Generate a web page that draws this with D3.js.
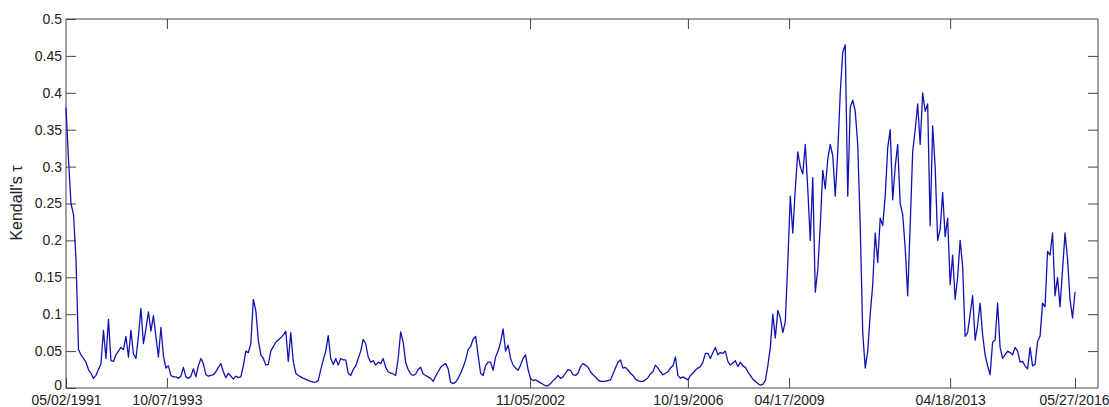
<!DOCTYPE html>
<html>
<head>
<meta charset="utf-8">
<script src="https://cdn.jsdelivr.net/npm/d3@7"></script>
<style>
  body { margin: 0; background: #fff; }
  .tick text { font-family: "Liberation Sans", Arial, sans-serif; font-size: 14px; fill: #222; }
</style>
</head>
<body>
<div id="chart"></div>
<script>
// Kendall's tau, rolling estimate, one value every few trading days
var tau = [
  0.38, 0.31, 0.25, 0.235,   0.175, 0.052, 0.045, 0.04,   0.035, 0.025, 0.02, 0.013,
  0.017, 0.025, 0.033, 0.078,   0.04, 0.093, 0.037, 0.036,   0.045, 0.05, 0.055, 0.052,
  0.07, 0.042, 0.078, 0.046,   0.04, 0.07, 0.108, 0.06,   0.08, 0.103, 0.077, 0.098,
  0.07, 0.042, 0.082, 0.044,   0.027, 0.03, 0.017, 0.015,   0.015, 0.013, 0.016, 0.028,
  0.015, 0.013, 0.016, 0.026,   0.015, 0.03, 0.04, 0.033,   0.018, 0.016, 0.017, 0.018,
  0.022, 0.028, 0.033, 0.022,   0.014, 0.02, 0.016, 0.012,   0.016, 0.014, 0.015, 0.03,
  0.05, 0.048, 0.06, 0.12,   0.105, 0.065, 0.045, 0.04,   0.031, 0.032, 0.05, 0.056,
  0.062, 0.065, 0.068, 0.072,   0.077, 0.036, 0.075, 0.036,   0.02, 0.017, 0.015, 0.013,
  0.012, 0.01, 0.009, 0.008,   0.008, 0.01, 0.025, 0.038,   0.05, 0.071, 0.04, 0.032,
  0.04, 0.031, 0.04, 0.038,   0.038, 0.02, 0.017, 0.025,   0.03, 0.04, 0.05, 0.066,
  0.06, 0.042, 0.035, 0.037,   0.031, 0.035, 0.033, 0.04,   0.028, 0.022, 0.02, 0.019,
  0.017, 0.04, 0.076, 0.062,   0.035, 0.025, 0.019, 0.017,   0.019, 0.025, 0.028, 0.019,
  0.017, 0.015, 0.013, 0.009,   0.016, 0.022, 0.028, 0.031,   0.033, 0.026, 0.008, 0.006,
  0.008, 0.013, 0.02, 0.028,   0.038, 0.052, 0.056, 0.066,   0.07, 0.045, 0.02, 0.017,
  0.03, 0.035, 0.035, 0.024,   0.042, 0.05, 0.062, 0.08,   0.05, 0.058, 0.04, 0.031,
  0.027, 0.024, 0.031, 0.04,   0.045, 0.025, 0.013, 0.01,   0.011, 0.009, 0.007, 0.005,
  0.003, 0.003, 0.006, 0.01,   0.013, 0.017, 0.013, 0.015,   0.02, 0.025, 0.024, 0.018,
  0.017, 0.02, 0.029, 0.033,   0.031, 0.028, 0.022, 0.018,   0.015, 0.011, 0.009, 0.009,
  0.009, 0.01, 0.011, 0.019,   0.027, 0.035, 0.038, 0.027,   0.028, 0.024, 0.02, 0.017,
  0.012, 0.01, 0.009, 0.009,   0.011, 0.014, 0.019, 0.022,   0.031, 0.027, 0.022, 0.018,
  0.02, 0.022, 0.027, 0.03,   0.042, 0.017, 0.013, 0.015,   0.013, 0.011, 0.017, 0.02,
  0.024, 0.027, 0.029, 0.035,   0.047, 0.047, 0.04, 0.048,   0.055, 0.045, 0.048, 0.047,
  0.05, 0.036, 0.031, 0.034,   0.037, 0.029, 0.035, 0.03,   0.028, 0.022, 0.017, 0.012,
  0.009, 0.006, 0.004, 0.005,   0.01, 0.03, 0.055, 0.1,   0.068, 0.105, 0.095, 0.075,
  0.09, 0.17, 0.26, 0.21,   0.27, 0.32, 0.3, 0.29,   0.33, 0.27, 0.2, 0.285,
  0.13, 0.16, 0.22, 0.295,   0.27, 0.31, 0.33, 0.315,   0.26, 0.32, 0.4, 0.455,
  0.465, 0.26, 0.38, 0.39,   0.375, 0.33, 0.22, 0.075,   0.027, 0.05, 0.1, 0.14,
  0.21, 0.17, 0.23, 0.22,   0.26, 0.325, 0.35, 0.255,   0.3, 0.33, 0.25, 0.235,
  0.19, 0.125, 0.22, 0.32,   0.35, 0.385, 0.33, 0.4,   0.375, 0.385, 0.22, 0.355,
  0.3, 0.2, 0.215, 0.265,   0.205, 0.23, 0.14, 0.18,   0.12, 0.15, 0.2, 0.165,
  0.07, 0.075, 0.1, 0.125,   0.065, 0.085, 0.115, 0.072,   0.045, 0.03, 0.018, 0.062,
  0.065, 0.115, 0.055, 0.04,   0.045, 0.05, 0.048, 0.045,   0.055, 0.05, 0.035, 0.036,
  0.03, 0.026, 0.055, 0.03,   0.032, 0.063, 0.07, 0.115,   0.11, 0.185, 0.18, 0.21,
  0.125, 0.15, 0.11, 0.16,   0.21, 0.175, 0.12, 0.095,
  0.13
];

// x axis: sample number, labelled with the dates at these samples
var xTickIdx = [0, 40.4, 185.8, 249, 289.5, 354, 404];
var xTickLabels = ["05/02/1991", "10/07/1993", "11/05/2002", "10/19/2006", "04/17/2009", "04/18/2013", "05/27/2016"];
var xMax = 413.2;

var yTicks = [0, 0.05, 0.1, 0.15, 0.2, 0.25, 0.3, 0.35, 0.4, 0.45, 0.5];
var yLabel = "Kendall's \u03c4";

var margin = {top: 19, right: 11, bottom: 19, left: 66},
    width = 1109 - margin.left - margin.right,
    height = 407 - margin.top - margin.bottom;

var svg = d3.select("#chart")
  .append("svg")
  .attr("width", width + margin.left + margin.right)
  .attr("height", height + margin.top + margin.bottom)
  .append("g")
  .attr("transform", "translate(" + margin.left + "," + margin.top + ")");

var x = d3.scaleLinear()
  .domain([0, xMax])
  .range([0, width]);

var y = d3.scaleLinear()
  .domain([0, 0.5])
  .range([height, 0]);

// matlab style: ticks point inwards, on all four sides
var xAxis = svg.append("g")
  .attr("transform", "translate(0," + height + ")")
  .call(d3.axisBottom(x)
    .tickValues(xTickIdx)
    .tickFormat(function(d, i) { return xTickLabels[i]; })
    .tickSize(-10)
    .tickPadding(7));
// last date sits against the right edge of the window
xAxis.selectAll(".tick:last-of-type text").attr("dx", "-1");

svg.append("g")
  .call(d3.axisTop(x).tickValues(xTickIdx.slice(1, -1)).tickSize(-10).tickFormat(""));

var yAxis = svg.append("g")
  .call(d3.axisLeft(y)
    .tickValues(yTicks)
    .tickFormat(function(d) { return d3.format("")(+d.toFixed(2)); })
    .tickSize(-10)
    .tickPadding(4));
yAxis.select(".tick text").attr("dy", "0.1em");

svg.append("g")
  .attr("transform", "translate(" + width + ",0)")
  .call(d3.axisRight(y).tickValues(yTicks.slice(1, -1)).tickSize(-10).tickFormat(""));

svg.selectAll(".domain").remove();
svg.selectAll(".tick line").attr("stroke", "#444");

svg.append("rect")
  .attr("width", width)
  .attr("height", height)
  .attr("fill", "none")
  .attr("stroke", "#444")
  .attr("stroke-width", 1);

var line = d3.line()
  .x(function(d, i) { return x(i); })
  .y(function(d) { return y(d); });

svg.append("path")
  .datum(tau)
  .attr("fill", "none")
  .attr("stroke", "#1212b4")
  .attr("stroke-width", 1.3)
  .attr("stroke-linejoin", "round")
  .attr("d", line);

svg.append("text")
  .attr("transform", "translate(" + (16 - margin.left) + "," + (203 - margin.top) + ") rotate(-90)")
  .attr("text-anchor", "middle")
  .attr("dy", "0.35em")
  .style("font-family", "Liberation Sans, Arial, sans-serif")
  .style("font-size", "16px")
  .style("fill", "#222")
  .text(yLabel);
</script>
</body>
</html>
